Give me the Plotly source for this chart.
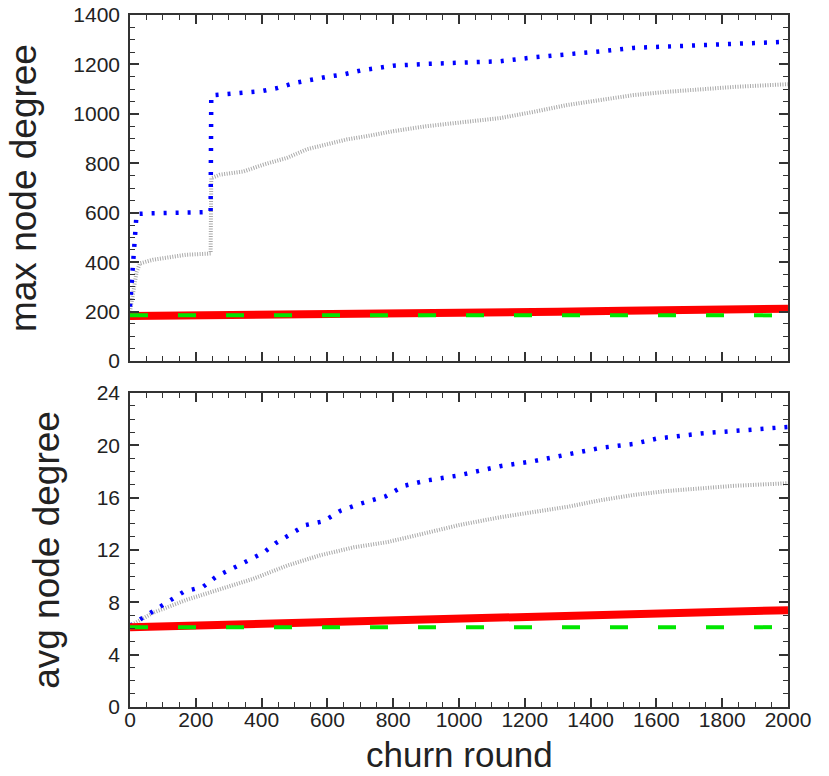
import plotly.graph_objects as go
from plotly.subplots import make_subplots

# ---- data: max node degree (top) ----
max_blue_x = [0, 4, 8, 14, 20, 60, 150, 245, 247, 300, 400, 450, 500, 600, 650, 700, 800, 900, 1000,
              1125, 1230, 1330, 1430, 1530, 1630, 1735, 1835, 2000]
max_blue_y = [220, 300, 400, 500, 595, 598, 600, 603, 1075, 1080, 1092, 1105, 1125, 1150, 1160, 1175,
              1195, 1202, 1208, 1213, 1229, 1240, 1253, 1267, 1273, 1280, 1284, 1292]
max_gray_x = [0, 10, 20, 30, 70, 170, 245, 247, 273, 345, 406, 477, 538, 599, 660, 720, 800, 900, 1000,
              1125, 1230, 1330, 1430, 1530, 1630, 1735, 1835, 2000]
max_gray_y = [200, 280, 360, 395, 410, 430, 435, 740, 754, 767, 795, 822, 857, 877, 897, 910, 930, 950,
              965, 983, 1009, 1036, 1056, 1076, 1089, 1099, 1109, 1120]
max_red_x = [0, 250, 500, 700, 1000, 1300, 1500, 1700, 2000]
max_red_y = [182, 184, 186, 195, 198, 200, 204, 208, 212]
max_green_x = [0, 2000]
max_green_y = [185, 185]

# ---- data: avg node degree (bottom) ----
avg_blue_x = [0, 45, 80, 122, 163, 223, 264, 305, 360, 406, 442, 497, 533, 589, 640, 695, 777, 833, 900,
              1000, 1125, 1230, 1330, 1430, 1530, 1600, 1735, 1835, 1895, 2000]
avg_blue_y = [6.2, 6.9, 7.5, 8.1, 8.8, 9.2, 10.0, 10.5, 11.2, 11.8, 12.5, 13.3, 13.9, 14.2, 15.0, 15.5,
              16.1, 16.9, 17.3, 17.7, 18.4, 18.8, 19.3, 19.8, 20.1, 20.5, 20.9, 21.1, 21.2, 21.4]
avg_gray_x = [0, 70, 173, 274, 375, 477, 579, 680, 782, 884, 1000, 1125, 1230, 1330, 1430, 1530, 1630,
              1735, 1835, 2000]
avg_gray_y = [6.2, 7.2, 8.2, 9.0, 9.8, 10.8, 11.6, 12.2, 12.6, 13.2, 13.9, 14.5, 14.9, 15.3, 15.8, 16.2,
              16.5, 16.7, 16.9, 17.1]
avg_red_x = [0, 500, 1000, 1500, 2000]
avg_red_y = [6.1, 6.4, 6.7, 7.0, 7.4]
avg_green_x = [0, 2000]
avg_green_y = [6.1, 6.1]

BLUE = "#0000ff"
GRAY = "#aaaaaa"
RED = "#ff0000"
GREEN = "#00e600"
FONT = "Liberation Sans, Arial, sans-serif"

fig = make_subplots(rows=2, cols=1, vertical_spacing=0.046, row_heights=[0.5, 0.4538])

def add_set(row, gx, gy, bx, by, rx, ry, gnx, gny):
    fig.add_trace(go.Scatter(x=gx, y=gy, mode="lines",
                             line=dict(color=GRAY, width=4, dash="1px,1.5px"), showlegend=False), row=row, col=1)
    fig.add_trace(go.Scatter(x=bx, y=by, mode="lines",
                             line=dict(color=BLUE, width=4.5, dash="3px,9px"), showlegend=False), row=row, col=1)
    fig.add_trace(go.Scatter(x=rx, y=ry, mode="lines",
                             line=dict(color=RED, width=8), showlegend=False), row=row, col=1)
    fig.add_trace(go.Scatter(x=gnx, y=gny, mode="lines",
                             line=dict(color=GREEN, width=4, dash="18px,30px"), showlegend=False), row=row, col=1)

add_set(1, max_gray_x, max_gray_y, max_blue_x, max_blue_y, max_red_x, max_red_y, max_green_x, max_green_y)
add_set(2, avg_gray_x, avg_gray_y, avg_blue_x, avg_blue_y, avg_red_x, avg_red_y, avg_green_x, avg_green_y)

axis_common = dict(showline=True, linecolor="#333333", linewidth=1.5, mirror="ticks",
                   ticks="inside", ticklen=9, tickwidth=1.5, tickcolor="#333333",
                   showgrid=False, zeroline=False, automargin=False,
                   tickfont=dict(family=FONT, size=21, color="#222222"),
                   minor=dict(ticks="inside", ticklen=5, tickwidth=1.2, tickcolor="#333333"))

fig.update_xaxes(range=[0, 2000], dtick=200, **axis_common)
fig.update_xaxes(showticklabels=False, row=1, col=1)
fig.update_xaxes(ticklabelstandoff=-7, row=2, col=1)
fig.update_yaxes(ticklabelstandoff=4, **axis_common)
fig.update_yaxes(range=[0, 1400], dtick=200, row=1, col=1,
                 title=dict(text="max node degree", font=dict(family=FONT, size=37, color="#222222"), standoff=25))
fig.update_yaxes(range=[0, 24], dtick=4, row=2, col=1,
                 title=dict(text="avg node degree", font=dict(family=FONT, size=37, color="#222222"), standoff=26))

fig.add_annotation(text="churn round", xref="paper", yref="paper", x=0.5, y=-0.069,
                   xanchor="center", yanchor="middle", showarrow=False,
                   font=dict(family=FONT, size=35, color="#222222"))

fig.update_layout(width=829, height=776, margin=dict(l=130, r=41, t=15, b=69),
                  plot_bgcolor="white", paper_bgcolor="white")

fig.write_html("out.html", config={"displayModeBar": False},
               post_script="document.body.style.margin='0px';")
